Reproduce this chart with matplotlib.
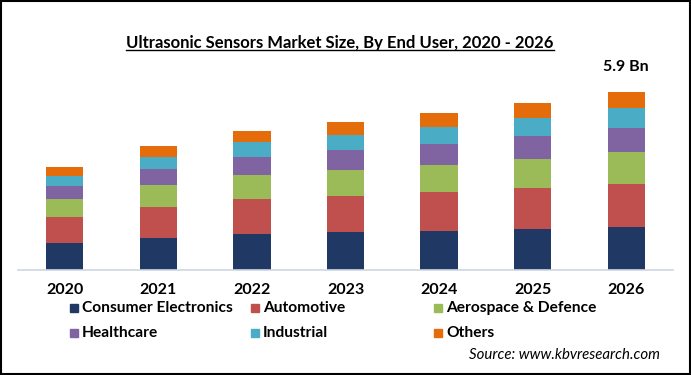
import matplotlib.pyplot as plt
from matplotlib.patches import Rectangle
from matplotlib.lines import Line2D

# Data (USD Bn)
years = ['2020', '2021', '2022', '2023', '2024', '2025', '2026']
consumer_electronics = [0.88, 1.06, 1.19, 1.26, 1.29, 1.36, 1.43]
automotive = [0.88, 1.03, 1.16, 1.19, 1.29, 1.36, 1.43]
aerospace_defence = [0.59, 0.73, 0.80, 0.86, 0.89, 0.96, 1.06]
healthcare = [0.43, 0.53, 0.60, 0.66, 0.70, 0.76, 0.80]
industrial = [0.33, 0.40, 0.50, 0.50, 0.56, 0.60, 0.66]
others = [0.31, 0.36, 0.36, 0.43, 0.46, 0.50, 0.53]

series_names = ['Consumer Electronics', 'Automotive', 'Aerospace & Defence',
                'Healthcare', 'Industrial', 'Others']
series = [consumer_electronics, automotive, aerospace_defence,
          healthcare, industrial, others]
colors = ['#1F3864', '#C0504D', '#9BBB59', '#8064A2', '#4BACC6', '#E46C0A']

font = 'Lato'
plt.rcParams['font.family'] = [font, 'DejaVu Sans']

fig = plt.figure(figsize=(6.91, 3.75), dpi=100)
ax = fig.add_axes([0.026, 0.28, 0.948, 0.563])

x = range(len(years))
bottom = [0.0] * len(years)
for vals, col in zip(series, colors):
    ax.bar(x, vals, width=0.4, bottom=bottom, color=col)
    bottom = [b + v for b, v in zip(bottom, vals)]

ax.set_xlim(-0.5, 6.5)
ax.set_ylim(0, 7)
ax.set_yticks([])
ax.set_xticks(list(x))
ax.set_xticklabels(years, fontsize=11.5, fontweight='bold')
ax.tick_params(axis='x', length=0, pad=9)
for s in ['top', 'right', 'left']:
    ax.spines[s].set_visible(False)
ax.spines['bottom'].set_color('#D0D7E2')
ax.spines['bottom'].set_linewidth(1.2)

# total label on last bar
ax.text(6, bottom[-1] + 0.6, '5.9 Bn', ha='center', va='bottom',
        fontsize=11.5, fontweight='bold')

# title with underline
title = fig.text(0.492, 0.885, 'Ultrasonic Sensors Market Size, By End User, 2020 - 2026',
                 ha='center', va='center', fontsize=12, fontweight='bold')
fig.canvas.draw()
bb = title.get_window_extent().transformed(fig.transFigure.inverted())
fig.add_artist(Line2D([bb.x0, bb.x1], [bb.y0 + 0.004, bb.y0 + 0.004],
                      transform=fig.transFigure, color='black', lw=1))

# legend drawn by hand (3 columns x 2 rows)
col_x = [70, 251, 434]
row_y = [308, 333]
for i, (name, col) in enumerate(zip(series_names, colors)):
    px = col_x[i % 3]
    py = row_y[i // 3]
    fig.add_artist(Rectangle((px / 691, 1 - (py + 4) / 375), 8 / 691, 8 / 375,
                             transform=fig.transFigure, color=col))
    fig.text((px + 12) / 691, 1 - py / 375, name, ha='left', va='center',
             fontsize=11.2, fontweight='bold')

fig.text(660 / 691, 1 - 355 / 375, 'Source: www.kbvresearch.com', ha='right',
         va='center', fontsize=10.8, style='italic')

# black frame around figure
fig.add_artist(Rectangle((0.001, 0.002), 0.997, 0.995, transform=fig.transFigure,
                         fill=False, edgecolor='black', lw=1.5))

fig.savefig('out.png', dpi=100)
